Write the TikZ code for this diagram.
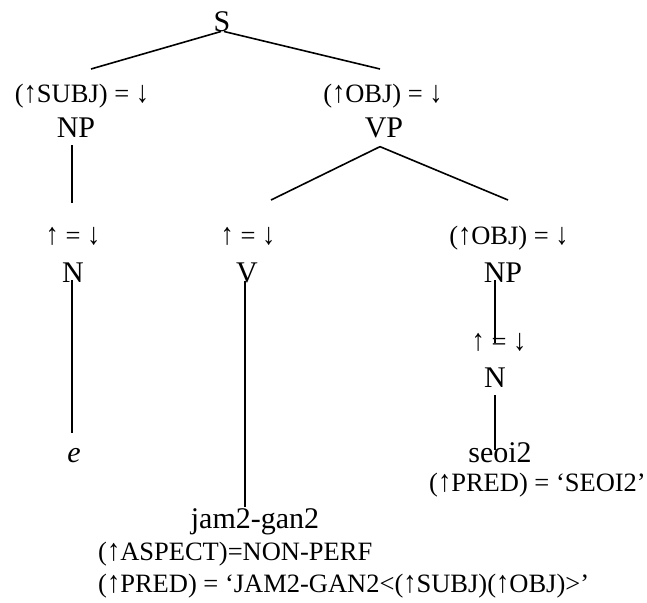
\documentclass[tikz,border=0pt]{standalone}
\usepackage{fontspec}
\usepackage{graphicx}
\setmainfont{Liberation Serif}
\newcommand{\UpA}{\scalebox{1}[1.15]{↑}}
\newcommand{\DnA}{\scalebox{1}[1.15]{↓}}
\begin{document}
\begin{tikzpicture}[x=1pt,y=-1pt,
  big/.style={font=\fontsize{30}{30}\selectfont, inner sep=0pt, anchor=base},
  ann/.style={font=\fontsize{26.5}{26.5}\selectfont, inner sep=0pt, anchor=base},
  edge/.style={line width=1.6pt}]
\useasboundingbox (0,0) rectangle (647,602);
% top level
\node[big] (S) at (222,32) {S};
\node[ann] (a1) at (82,102) {(\UpA SUBJ) = \DnA};
\node[big] (NP1) at (76,137) {NP};
\node[ann] (a2) at (383,102) {(\UpA OBJ) = \DnA};
\node[big] (VP) at (384,137) {VP};
% level 2
\node[ann] (a3) at (73,244) {\UpA{} = \DnA};
\node[big] (N1) at (73,282) {N};
\node[big,font=\fontsize{30}{30}\selectfont\itshape] (e) at (74,462) {e};
\node[ann] (a4) at (248,244) {\UpA{} = \DnA};
\node[big] (V) at (247,282) {V};
\node[ann] (a5) at (509,244) {(\UpA OBJ) = \DnA};
\node[big] (NP2) at (503,282) {NP};
\node[ann] (a6) at (499,350) {\UpA{} = \DnA};
\node[big] (N2) at (495,387) {N};
\node[big] (seoi) at (500,462) {seoi2};
\node[ann,anchor=base west] (p1) at (429,491) {(\UpA PRED) = ‘SEOI2’};
\node[big] (jam) at (255,528) {jam2-gan2};
\node[ann,anchor=base west] (asp) at (98,560) {(\UpA ASPECT)=NON-PERF};
\node[ann,anchor=base west] (p2) at (98,592) {(\UpA PRED) = ‘JAM2-GAN2<(\UpA SUBJ)(\UpA OBJ)>’};
% free ends of connectors
\coordinate (c1) at (91,69);
\coordinate (c2) at (380,69);
\coordinate (c3) at (271,200);
\coordinate (c4) at (508,200);
\coordinate (c5) at (72,203);
\coordinate (c6) at (72,433);
\coordinate (c7) at (245,507);
\coordinate (c8) at (495,343);
\coordinate (c9) at (495,450);
% connectors
\draw[edge] ([xshift=-1pt,yshift=1pt]S.south) -- (c1);
\draw[edge] ([xshift=2pt,yshift=1pt]S.south) -- (c2);
\draw[edge] ([xshift=-4pt,yshift=-8pt]NP1.south) -- (c5);
\draw[edge] ([xshift=-4pt,yshift=-9pt]VP.south) -- (c3);
\draw[edge] ([xshift=-4pt,yshift=-9pt]VP.south) -- (c4);
\draw[edge] ([xshift=-1pt,yshift=2pt]N1.south) -- (c6);
\draw[edge] ([xshift=-2pt,yshift=2pt]V.south) -- (c7);
\draw[edge] ([xshift=-8pt,yshift=2pt]NP2.south) -- (c8);
\draw[edge] ([yshift=-8pt]N2.south) -- (c9);
\end{tikzpicture}
\end{document}
